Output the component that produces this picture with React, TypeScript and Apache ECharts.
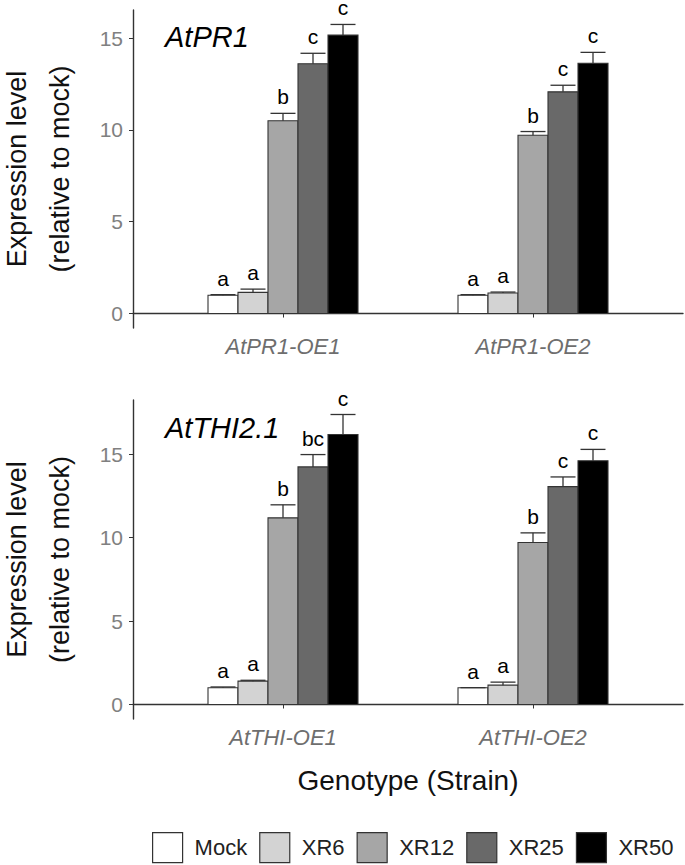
import React, { useEffect, useRef } from "react";
import * as echarts from "echarts";

const FONT = "'Liberation Sans', Arial, Helvetica, sans-serif";

const strains = ["Mock", "XR6", "XR12", "XR25", "XR50"];
const strainColors = ["#FFFFFF", "#D3D3D3", "#A6A6A6", "#696969", "#000000"];

const prCategories = ["AtPR1-OE1", "AtPR1-OE2"];
const thiCategories = ["AtTHI-OE1", "AtTHI-OE2"];
const yTicks = [0, 5, 10, 15];

// AtPR1 panel: values per strain across [OE1, OE2]
const prMock = [1.0, 1.0];
const prXR6 = [1.15, 1.12];
const prXR12 = [10.5, 9.71];
const prXR25 = [13.6, 12.07];
const prXR50 = [15.16, 13.62];
const prMockErr = [0.03, 0.03];
const prXR6Err = [0.18, 0.05];
const prXR12Err = [0.4, 0.2];
const prXR25Err = [0.57, 0.36];
const prXR50Err = [0.58, 0.6];
const prLettersOE1 = ["a", "a", "b", "c", "c"];
const prLettersOE2 = ["a", "a", "b", "c", "c"];

// AtTHI2.1 panel
const thiMock = [1.0, 1.0];
const thiXR6 = [1.4, 1.16];
const thiXR12 = [11.18, 9.7];
const thiXR25 = [14.23, 13.05];
const thiXR50 = [16.17, 14.6];
const thiMockErr = [0.05, 0.01];
const thiXR6Err = [0.05, 0.18];
const thiXR12Err = [0.78, 0.58];
const thiXR25Err = [0.74, 0.58];
const thiXR50Err = [1.2, 0.68];
const thiLettersOE1 = ["a", "a", "b", "bc", "c"];
const thiLettersOE2 = ["a", "a", "b", "c", "c"];

const prValues = [prMock, prXR6, prXR12, prXR25, prXR50];
const prErrs = [prMockErr, prXR6Err, prXR12Err, prXR25Err, prXR50Err];
const prLetters = [prLettersOE1, prLettersOE2];
const thiValues = [thiMock, thiXR6, thiXR12, thiXR25, thiXR50];
const thiErrs = [thiMockErr, thiXR6Err, thiXR12Err, thiXR25Err, thiXR50Err];
const thiLetters = [thiLettersOE1, thiLettersOE2];

function axisRange(values: number[][], errs: number[][]) {
  let mx = 0;
  values.forEach((arr, i) => arr.forEach((v, j) => (mx = Math.max(mx, v + errs[i][j]))));
  const pad = mx * 0.05;
  return { min: -pad, max: mx + pad };
}

function makeSeries(
  values: number[][],
  errs: number[][],
  letters: string[][],
  axisIndex: number
) {
  return strains.map((name, si) => ({
    type: "custom",
    name,
    xAxisIndex: axisIndex,
    yAxisIndex: axisIndex,
    clip: false,
    itemStyle: { color: strainColors[si], borderColor: "#333" },
    encode: { x: 0, y: 1 },
    data: values[si].map((v, gi) => [gi + 1, v, errs[si][gi]]),
    renderItem: (params: any, api: any) => {
      const x = api.value(0);
      const y = api.value(1);
      const e = api.value(2);
      const unit = api.size([1, 0])[0];
      const bw = unit * 0.12;
      const base = api.coord([x, 0]);
      const cx = base[0] + (si - 2) * bw;
      const top = api.coord([x, y])[1];
      const et = api.coord([x, y + e])[1];
      const capW = unit * 0.1;
      const letter = letters[params.dataIndex][si];
      return {
        type: "group",
        children: [
          {
            type: "rect",
            shape: { x: cx - bw / 2, y: top, width: bw, height: base[1] - top },
            style: { fill: strainColors[si], stroke: "#333333", lineWidth: 1.1 },
          },
          {
            type: "line",
            shape: { x1: cx, y1: top, x2: cx, y2: et },
            style: { stroke: "#333333", lineWidth: 1.3 },
          },
          {
            type: "line",
            shape: { x1: cx - capW / 2, y1: et, x2: cx + capW / 2, y2: et },
            style: { stroke: "#333333", lineWidth: 1.3 },
          },
          {
            type: "text",
            x: cx,
            y: et - 6,
            style: {
              text: letter,
              fontSize: 21,
              fontFamily: FONT,
              fill: "#000000",
              align: "center",
              verticalAlign: "bottom",
            },
          },
        ],
      };
    },
  }));
}

function makeXAxis(gridIndex: number, cats: string[], withName: boolean) {
  return {
    type: "value",
    gridIndex,
    min: 0.4,
    max: 2.6,
    axisLine: { show: true, lineStyle: { color: "#333333", width: 1.4 } },
    axisTick: { show: true, length: 4, customValues: [1, 2], lineStyle: { color: "#333333" } },
    axisLabel: {
      customValues: [1, 2],
      formatter: (v: number) => cats[Math.round(v) - 1] ?? "",
      fontSize: 22,
      fontStyle: "italic",
      fontFamily: FONT,
      color: "#6E6E6E",
      margin: 7,
    },
    splitLine: { show: false },
    name: withName ? "Genotype (Strain)" : "",
    nameLocation: "middle",
    nameGap: 47,
    nameTextStyle: { fontSize: 28, fontFamily: FONT, color: "#111111" },
  };
}

function makeYAxis(gridIndex: number, range: { min: number; max: number }) {
  return {
    type: "value",
    gridIndex,
    min: range.min,
    max: range.max,
    axisLine: { show: true, lineStyle: { color: "#333333", width: 1.4 } },
    axisTick: { show: true, length: 4, customValues: yTicks, lineStyle: { color: "#333333" } },
    axisLabel: {
      customValues: yTicks,
      fontSize: 21,
      fontFamily: FONT,
      color: "#808080",
      margin: 10,
    },
    splitLine: { show: false },
    name: "Expression level\n(relative to mock)",
    nameLocation: "middle",
    nameRotate: 90,
    nameGap: 52,
    nameTextStyle: { fontSize: 27, lineHeight: 43, fontFamily: FONT, color: "#111111", align: "center" },
  };
}

export default function App() {
  const ref = useRef<HTMLDivElement>(null);
  useEffect(() => {
    if (!ref.current) return;
    const chart = echarts.init(ref.current, undefined, { renderer: "svg" });
    const prRange = axisRange(prValues, prErrs);
    const thiRange = axisRange(thiValues, thiErrs);
    chart.setOption({
      animation: false,
      backgroundColor: "#FFFFFF",
      textStyle: { fontFamily: FONT },
      grid: [
        { left: 133, top: 10, width: 550, height: 318, containLabel: false, outerBoundsMode: "none" },
        { left: 133, top: 400, width: 550, height: 319, containLabel: false, outerBoundsMode: "none" },
      ],
      xAxis: [makeXAxis(0, prCategories, false), makeXAxis(1, thiCategories, true)],
      yAxis: [makeYAxis(0, prRange), makeYAxis(1, thiRange)],
      legend: {
        left: 152,
        top: 832,
        width: 530,
        padding: 0,
        icon: "rect",
        itemWidth: 30,
        itemHeight: 30,
        itemGap: 12,
        selectedMode: false,
        textStyle: { fontSize: 22, fontFamily: FONT, color: "#222222", padding: [0, 0, 0, 7] },
        data: strains.map((s, i) => ({
          name: s,
          itemStyle: { color: strainColors[i], borderColor: "#333333", borderWidth: 1.2 },
        })),
      },
      graphic: [
        {
          type: "text",
          left: 165,
          top: 22,
          style: { text: "AtPR1", fontSize: 29, fontStyle: "italic", fontFamily: FONT, fill: "#000000" },
        },
        {
          type: "text",
          left: 165,
          top: 413,
          style: { text: "AtTHI2.1", fontSize: 29, fontStyle: "italic", fontFamily: FONT, fill: "#000000" },
        },
      ],
      series: [
        ...makeSeries(prValues, prErrs, prLetters, 0),
        ...makeSeries(thiValues, thiErrs, thiLetters, 1),
      ],
    });
    return () => chart.dispose();
  }, []);
  return (
    <div
      ref={ref}
      style={{ position: "fixed", left: 0, top: 0, width: 685, height: 865, background: "#fff" }}
    />
  );
}
